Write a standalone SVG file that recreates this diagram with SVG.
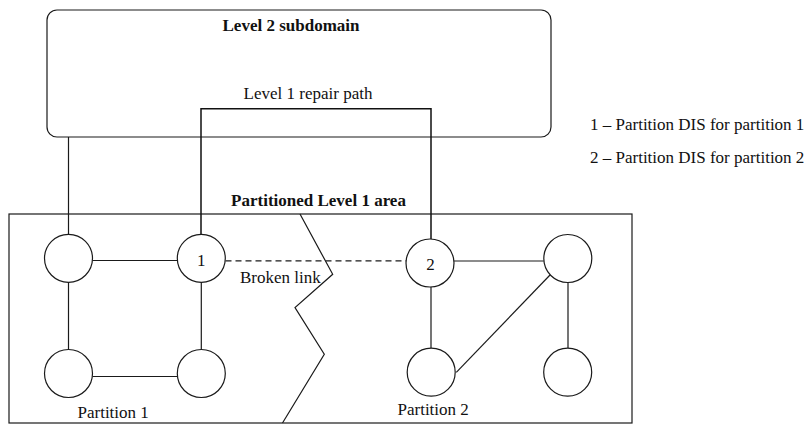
<svg xmlns="http://www.w3.org/2000/svg" width="806" height="425" viewBox="0 0 806 425">
  <style>
    .frame { fill: none; stroke: #1a1a1a; stroke-width: 1.2; }
    .node { fill: #fff; stroke: #1a1a1a; stroke-width: 1.2; }
    .link { fill: none; stroke: #1a1a1a; stroke-width: 1.2; }
    .path { fill: none; stroke: #111; stroke-width: 1.5; }
    .broken { fill: none; stroke: #1a1a1a; stroke-width: 1.2; stroke-dasharray: 6 4; }
    text { font-family: "Liberation Serif", "Times New Roman", serif; font-size: 17px; fill: #111; }
    .title { font-weight: bold; }
    .mid { text-anchor: middle; }
  </style>
  <rect width="806" height="425" fill="#fff"/>

  <!-- Level 2 subdomain -->
  <g id="level2">
    <rect class="frame" x="47" y="10" width="504" height="127" rx="10" ry="10"/>
    <text class="title mid" x="291" y="31">Level 2 subdomain</text>
  </g>

  <!-- Partitioned Level 1 area -->
  <g id="level1-area">
    <rect class="frame" x="9" y="214" width="623" height="209"/>
    <text class="title mid" x="318.5" y="206">Partitioned Level 1 area</text>
    <polyline class="frame" points="300,214 332.7,274.3 295,307.5 324.3,354.2 282.5,423"/>
    <text x="77.5" y="418">Partition 1</text>
    <text x="397.5" y="414.5">Partition 2</text>
  </g>

  <!-- Links between routers -->
  <g id="connectors">
    <line class="link" x1="68.5" y1="137" x2="68.5" y2="234.3"/>
    <path class="path" d="M201,234.3 V108.7 H431 V239"/>
    <text class="mid" x="308" y="99">Level 1 repair path</text>
    <line class="link" x1="92.5" y1="260.5" x2="177" y2="260.5"/>
    <line class="link" x1="68.5" y1="282.5" x2="68.5" y2="349.5"/>
    <line class="link" x1="92.5" y1="376.5" x2="177.3" y2="376.5"/>
    <line class="link" x1="201.3" y1="282.5" x2="201.3" y2="349.5"/>
    <line class="broken" x1="225.5" y1="260.8" x2="406" y2="260.8"/>
    <text x="240" y="282.5">Broken link</text>
    <line class="link" x1="454" y1="261" x2="543.8" y2="261"/>
    <line class="link" x1="431" y1="287" x2="431" y2="348"/>
    <line class="link" x1="568" y1="282.5" x2="568" y2="348"/>
    <line class="link" x1="456.3" y1="372.3" x2="550.5" y2="274.5"/>
  </g>

  <!-- Partition 1 routers -->
  <g id="p1-a"><circle class="node" cx="68.5" cy="258.3" r="24"/></g>
  <g id="p1-dis">
    <circle class="node" cx="201.3" cy="258.3" r="24"/>
    <text class="mid" x="201.3" y="266">1</text>
  </g>
  <g id="p1-c"><circle class="node" cx="68.5" cy="373.5" r="24"/></g>
  <g id="p1-d"><circle class="node" cx="201.3" cy="373.5" r="24"/></g>

  <!-- Partition 2 routers -->
  <g id="p2-dis">
    <circle class="node" cx="430" cy="263" r="24"/>
    <text class="mid" x="430.5" y="269.5">2</text>
  </g>
  <g id="p2-b"><circle class="node" cx="567.8" cy="258.5" r="24"/></g>
  <g id="p2-c"><circle class="node" cx="431.2" cy="372.2" r="24"/></g>
  <g id="p2-d"><circle class="node" cx="567.7" cy="372.2" r="24"/></g>

  <!-- Legend -->
  <g id="legend">
    <text x="590" y="130">1 – Partition DIS for partition 1</text>
    <text x="590" y="163">2 – Partition DIS for partition 2</text>
  </g>
</svg>
